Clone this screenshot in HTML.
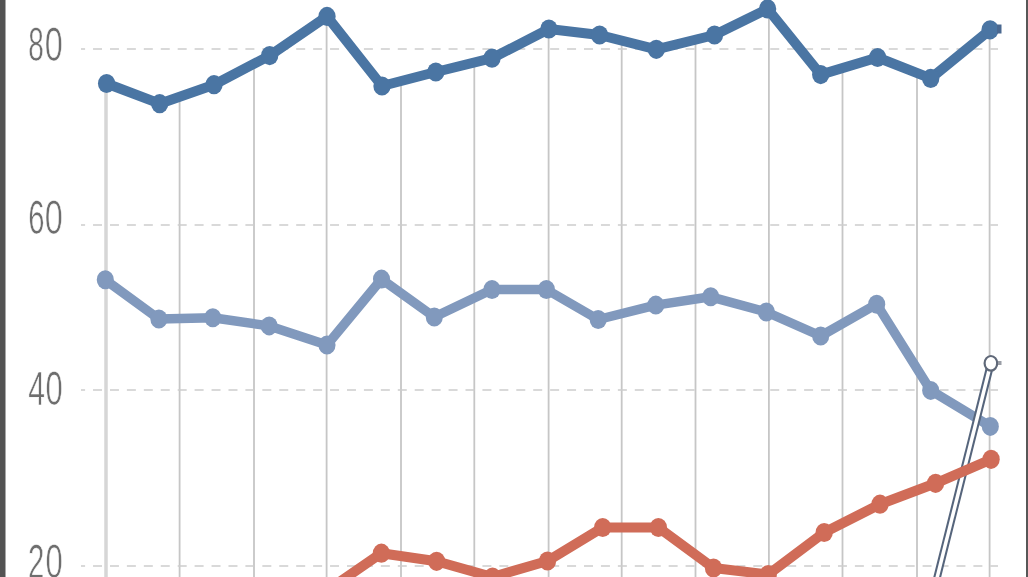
<!DOCTYPE html>
<html><head><meta charset="utf-8"><style>
html,body{margin:0;padding:0;background:#fff;width:1028px;height:577px;overflow:hidden}
svg{display:block;filter:blur(0.45px)}
</style></head><body>
<svg width="1028" height="577" viewBox="0 0 1028 577">
<rect x="0" y="0" width="1028" height="577" fill="#ffffff"/>
<line x1="106" y1="83.5" x2="106" y2="577" stroke="#d6d6d6" stroke-width="3.5"/>
<line x1="179.6" y1="96.7" x2="179.6" y2="577" stroke="#c6c6c6" stroke-width="1.8"/>
<line x1="254" y1="63.8" x2="254" y2="577" stroke="#c6c6c6" stroke-width="1.8"/>
<line x1="326.6" y1="16.7" x2="326.6" y2="577" stroke="#c6c6c6" stroke-width="1.8"/>
<line x1="401" y1="81.1" x2="401" y2="577" stroke="#c6c6c6" stroke-width="1.8"/>
<line x1="474.3" y1="62.5" x2="474.3" y2="577" stroke="#c6c6c6" stroke-width="1.8"/>
<line x1="548.6" y1="29.2" x2="548.6" y2="577" stroke="#c6c6c6" stroke-width="1.8"/>
<line x1="621.7" y1="40.6" x2="621.7" y2="577" stroke="#c6c6c6" stroke-width="1.8"/>
<line x1="695.5" y1="39.7" x2="695.5" y2="577" stroke="#c6c6c6" stroke-width="1.8"/>
<line x1="768.9" y1="10.5" x2="768.9" y2="577" stroke="#c6c6c6" stroke-width="1.8"/>
<line x1="842.5" y1="68.0" x2="842.5" y2="577" stroke="#c6c6c6" stroke-width="1.8"/>
<line x1="917" y1="73.0" x2="917" y2="577" stroke="#c6c6c6" stroke-width="1.8"/>
<line x1="989.6" y1="30.2" x2="989.6" y2="577" stroke="#c6c6c6" stroke-width="1.8"/>
<line x1="81" y1="49" x2="998" y2="49" stroke="#cdcdcd" stroke-width="1.6" stroke-dasharray="9 7.93" stroke-dashoffset="4.9"/>
<line x1="81" y1="225" x2="998" y2="225" stroke="#cdcdcd" stroke-width="1.6" stroke-dasharray="9 7.93" stroke-dashoffset="4.9"/>
<line x1="81" y1="390" x2="998" y2="390" stroke="#cdcdcd" stroke-width="1.6" stroke-dasharray="9 7.93" stroke-dashoffset="4.9"/>
<line x1="81" y1="566" x2="998" y2="566" stroke="#cdcdcd" stroke-width="1.6" stroke-dasharray="9 7.93" stroke-dashoffset="4.9"/>
<text transform="translate(28.19,61.13) scale(0.5763,1)" font-family="Liberation Sans" font-size="48.45" fill="#6e6e6e" stroke="#fff" stroke-width="0.65">8</text>
<text transform="translate(44.73,61.13) scale(0.6693,1)" font-family="Liberation Sans" font-size="48.45" fill="#6e6e6e" stroke="#fff" stroke-width="0.65">0</text>
<text transform="translate(28.21,233.73) scale(0.6110,1)" font-family="Liberation Sans" font-size="47.88" fill="#6e6e6e" stroke="#fff" stroke-width="0.65">6</text>
<text transform="translate(44.73,233.73) scale(0.6772,1)" font-family="Liberation Sans" font-size="47.88" fill="#6e6e6e" stroke="#fff" stroke-width="0.65">0</text>
<text transform="translate(28.31,405.13) scale(0.6226,1)" font-family="Liberation Sans" font-size="48.45" fill="#6e6e6e" stroke="#fff" stroke-width="0.65">4</text>
<text transform="translate(45.49,405.13) scale(0.6391,1)" font-family="Liberation Sans" font-size="48.45" fill="#6e6e6e" stroke="#fff" stroke-width="0.65">0</text>
<text transform="translate(27.92,578.03) scale(0.6125,1)" font-family="Liberation Sans" font-size="48.02" fill="#6e6e6e" stroke="#fff" stroke-width="0.65">2</text>
<text transform="translate(45.49,578.03) scale(0.6447,1)" font-family="Liberation Sans" font-size="48.02" fill="#6e6e6e" stroke="#fff" stroke-width="0.65">0</text>
<polyline points="106.6,83.5 159.7,103.7 214.0,84.7 269.7,55.6 327.0,16.4 382.0,86.0 435.8,72.0 492.0,58.2 548.9,29.0 599.6,35.0 656.3,49.3 714.5,35.0 767.6,8.9 820.7,74.6 877.6,57.5 930.7,78.4 990.1,29.8" fill="none" stroke="#4a75a3" stroke-width="10" stroke-linejoin="round"/><ellipse cx="106.6" cy="83.5" rx="8.65" ry="9.58" fill="#4a75a3"/><ellipse cx="159.7" cy="103.7" rx="8.65" ry="9.58" fill="#4a75a3"/><ellipse cx="214" cy="84.7" rx="8.65" ry="9.58" fill="#4a75a3"/><ellipse cx="269.7" cy="55.6" rx="8.65" ry="9.58" fill="#4a75a3"/><ellipse cx="327" cy="16.4" rx="8.65" ry="9.58" fill="#4a75a3"/><ellipse cx="382" cy="86" rx="8.65" ry="9.58" fill="#4a75a3"/><ellipse cx="435.8" cy="72" rx="8.65" ry="9.58" fill="#4a75a3"/><ellipse cx="492" cy="58.2" rx="8.65" ry="9.58" fill="#4a75a3"/><ellipse cx="548.9" cy="29" rx="8.65" ry="9.58" fill="#4a75a3"/><ellipse cx="599.6" cy="35" rx="8.65" ry="9.58" fill="#4a75a3"/><ellipse cx="656.3" cy="49.3" rx="8.65" ry="9.58" fill="#4a75a3"/><ellipse cx="714.5" cy="35" rx="8.65" ry="9.58" fill="#4a75a3"/><ellipse cx="767.6" cy="8.9" rx="8.65" ry="9.58" fill="#4a75a3"/><ellipse cx="820.7" cy="74.6" rx="8.65" ry="9.58" fill="#4a75a3"/><ellipse cx="877.6" cy="57.5" rx="8.65" ry="9.58" fill="#4a75a3"/><ellipse cx="930.7" cy="78.4" rx="8.65" ry="9.58" fill="#4a75a3"/><ellipse cx="990.1" cy="29.8" rx="8.65" ry="9.58" fill="#4a75a3"/>
<rect x="997" y="24.5" width="4.5" height="9" fill="#4a6890"/>
<polyline points="105.3,279.8 158.9,319.0 212.8,317.8 269.2,325.9 327.0,345.0 381.5,279.1 434.3,317.0 492.0,289.5 546.4,289.5 598.2,319.5 655.8,305.1 710.7,296.8 766.4,312.0 820.7,336.0 876.7,304.2 930.7,390.4 990.3,426.4" fill="none" stroke="#8199bd" stroke-width="9.5" stroke-linejoin="round"/><ellipse cx="105.3" cy="279.8" rx="8.56" ry="9.48" fill="#8199bd"/><ellipse cx="158.9" cy="319" rx="8.56" ry="9.48" fill="#8199bd"/><ellipse cx="212.8" cy="317.8" rx="8.56" ry="9.48" fill="#8199bd"/><ellipse cx="269.2" cy="325.9" rx="8.56" ry="9.48" fill="#8199bd"/><ellipse cx="327" cy="345" rx="8.56" ry="9.48" fill="#8199bd"/><ellipse cx="381.5" cy="279.1" rx="8.56" ry="9.48" fill="#8199bd"/><ellipse cx="434.3" cy="317" rx="8.56" ry="9.48" fill="#8199bd"/><ellipse cx="492" cy="289.5" rx="8.56" ry="9.48" fill="#8199bd"/><ellipse cx="546.4" cy="289.5" rx="8.56" ry="9.48" fill="#8199bd"/><ellipse cx="598.2" cy="319.5" rx="8.56" ry="9.48" fill="#8199bd"/><ellipse cx="655.8" cy="305.1" rx="8.56" ry="9.48" fill="#8199bd"/><ellipse cx="710.7" cy="296.8" rx="8.56" ry="9.48" fill="#8199bd"/><ellipse cx="766.4" cy="312" rx="8.56" ry="9.48" fill="#8199bd"/><ellipse cx="820.7" cy="336" rx="8.56" ry="9.48" fill="#8199bd"/><ellipse cx="876.7" cy="304.2" rx="8.56" ry="9.48" fill="#8199bd"/><ellipse cx="930.7" cy="390.4" rx="8.56" ry="9.48" fill="#8199bd"/><ellipse cx="990.3" cy="426.4" rx="8.56" ry="9.48" fill="#8199bd"/>
<line x1="990.9" y1="363" x2="936.5" y2="580" stroke="#56657c" stroke-width="7.6"/>
<line x1="990.9" y1="363" x2="936.5" y2="580" stroke="#ffffff" stroke-width="3.5"/>
<ellipse cx="990.9" cy="363.3" rx="6.3" ry="7.3" fill="#fff" stroke="#5f6878" stroke-width="2.2"/>
<rect x="998" y="361" width="3.5" height="4" fill="#9a9ea6"/>
<polyline points="327.0,590.6 381.4,553.2 436.6,561.3 492.5,577.0 547.5,561.0 602.7,527.5 658.4,527.5 713.5,568.0 768.2,574.5 824.2,532.5 880.0,504.2 935.6,483.3 991.1,459.3" fill="none" stroke="#d06c58" stroke-width="10" stroke-linejoin="round"/><ellipse cx="327" cy="590.6" rx="8.65" ry="9.58" fill="#d06c58"/><ellipse cx="381.4" cy="553.2" rx="8.65" ry="9.58" fill="#d06c58"/><ellipse cx="436.6" cy="561.3" rx="8.65" ry="9.58" fill="#d06c58"/><ellipse cx="492.5" cy="577" rx="8.65" ry="9.58" fill="#d06c58"/><ellipse cx="547.5" cy="561" rx="8.65" ry="9.58" fill="#d06c58"/><ellipse cx="602.7" cy="527.5" rx="8.65" ry="9.58" fill="#d06c58"/><ellipse cx="658.4" cy="527.5" rx="8.65" ry="9.58" fill="#d06c58"/><ellipse cx="713.5" cy="568" rx="8.65" ry="9.58" fill="#d06c58"/><ellipse cx="768.2" cy="574.5" rx="8.65" ry="9.58" fill="#d06c58"/><ellipse cx="824.2" cy="532.5" rx="8.65" ry="9.58" fill="#d06c58"/><ellipse cx="880" cy="504.2" rx="8.65" ry="9.58" fill="#d06c58"/><ellipse cx="935.6" cy="483.3" rx="8.65" ry="9.58" fill="#d06c58"/><ellipse cx="991.1" cy="459.3" rx="8.65" ry="9.58" fill="#d06c58"/>
<rect x="0" y="0" width="5.5" height="577" fill="#535353"/>
<rect x="1026" y="0" width="2" height="577" fill="#575757"/>
</svg>
</body></html>
